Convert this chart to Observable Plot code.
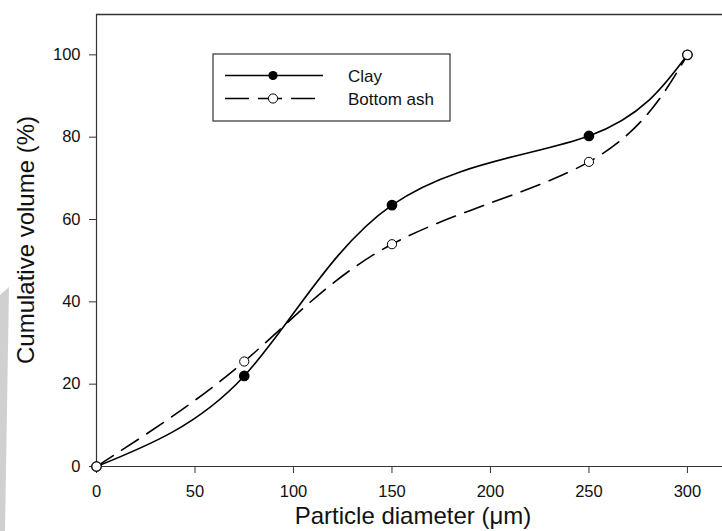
<!DOCTYPE html>
<html>
<head>
<meta charset="utf-8">
<script src="https://cdn.jsdelivr.net/npm/d3@7"></script>
<script src="https://cdn.jsdelivr.net/npm/@observablehq/plot@0.6"></script>
<style>
  html, body { margin: 0; padding: 0; background: #fff; }
  #chart { position: relative; width: 722px; height: 531px; overflow: hidden; }
  #chart svg { font-family: "Liberation Sans", Arial, sans-serif; }
  #chart svg text { font-size: 16.5px !important; }
  #chart svg text.title { font-size: 24px !important; }
  #chart svg text.leg { font-size: 17px !important; }
</style>
</head>
<body>
<div id="chart"></div>
<script>
const diameters = [0, 75, 150, 250, 300];
const clayValues = [0, 22, 63.5, 80.3, 100];
const ashValues = [0, 25.5, 54, 74, 100];
const xTicks = [0, 50, 100, 150, 200, 250, 300];
const yTicks = [0, 20, 40, 60, 80, 100];
const seriesNames = ["Clay", "Bottom ash"];

const clay = diameters.map((d, i) => ({x: d, y: clayValues[i]}));
const ash = diameters.map((d, i) => ({x: d, y: ashValues[i]}));

const xMax = 317.8, yMax = 109.8;

const plot = Plot.plot({
  width: 722,
  height: 531,
  marginLeft: 96,
  marginRight: 0,
  marginTop: 14,
  marginBottom: 65,
  x: {domain: [0, xMax]},
  y: {domain: [0, yMax]},
  style: {fontFamily: "Liberation Sans, Arial, sans-serif", color: "#111", background: "transparent"},
  marks: [
    Plot.axisX({ticks: xTicks, tickSize: 7, tickPadding: 12, label: null, stroke: "#333"}),
    Plot.axisY({ticks: yTicks, tickSize: 7, tickPadding: 9, label: null, stroke: "#333"}),
    Plot.ruleY([0], {stroke: "#333", strokeWidth: 1.2}),
    Plot.ruleX([0], {stroke: "#333", strokeWidth: 1.2}),
    Plot.ruleY([yMax], {stroke: "#333", strokeWidth: 1.5}),
    Plot.line(ash, {x: "x", y: "y", curve: "natural", stroke: "#000", strokeWidth: 1.6, strokeDasharray: "20,10"}),
    Plot.line(clay, {x: "x", y: "y", curve: "natural", stroke: "#000", strokeWidth: 1.6}),
    Plot.dot(clay, {x: "x", y: "y", r: 4.6, fill: "#000", stroke: "#000"}),
    Plot.dot(ash, {x: "x", y: "y", r: 4.6, fill: "#fff", stroke: "#000", strokeWidth: 1})
  ]
});

const chart = document.getElementById("chart");
chart.appendChild(plot);
const svg = d3.select(plot);

// scan artifact (grey band on left edge)
svg.insert("polygon", ":first-child")
  .attr("points", "0,295 9,287 5,531 0,531")
  .attr("fill", "#d0d0d0");

// axis titles
svg.append("text").attr("class", "title")
  .attr("x", 413).attr("y", 524)
  .attr("text-anchor", "middle")
  .attr("fill", "#111")
  .text("Particle diameter (μm)");
svg.append("text").attr("class", "title")
  .attr("transform", "translate(34,240) rotate(-90)")
  .attr("text-anchor", "middle")
  .attr("fill", "#111")
  .text("Cumulative volume (%)");

// legend
const lg = svg.append("g").attr("text-anchor", "start");
lg.append("rect").attr("x", 213).attr("y", 54).attr("width", 237).attr("height", 67)
  .attr("fill", "#fff").attr("stroke", "#333").attr("stroke-width", 1.2);
lg.append("line").attr("x1", 225).attr("x2", 323).attr("y1", 75.5).attr("y2", 75.5)
  .attr("stroke", "#000").attr("stroke-width", 1.6);
lg.append("circle").attr("cx", 273).attr("cy", 75.5).attr("r", 4.6).attr("fill", "#000");
lg.append("line").attr("x1", 225).attr("x2", 315).attr("y1", 98.5).attr("y2", 98.5)
  .attr("stroke", "#000").attr("stroke-width", 1.6).attr("stroke-dasharray", "24,9");
lg.append("circle").attr("cx", 273).attr("cy", 98.5).attr("r", 4.6).attr("fill", "#fff").attr("stroke", "#000");
lg.append("text").attr("class", "leg").attr("x", 348).attr("y", 82).attr("text-anchor", "start").attr("fill", "#111").text(seriesNames[0]);
lg.append("text").attr("class", "leg").attr("x", 348).attr("y", 105).attr("text-anchor", "start").attr("fill", "#111").text(seriesNames[1]);
</script>
</body>
</html>
